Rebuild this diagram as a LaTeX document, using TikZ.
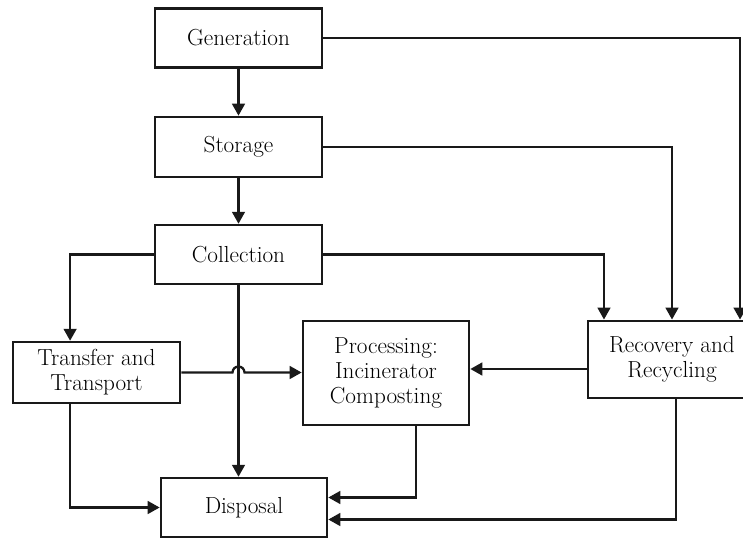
\documentclass[tikz,border=0pt]{standalone}
\usepackage{tikz}
\usetikzlibrary{arrows.meta,positioning,calc}

\begin{document}
\begin{tikzpicture}[
  x=0.025cm, y=-0.025cm,
  stage/.style={draw=black!90, line width=1.9pt, fill=white, align=center,
                font=\fontsize{16.5}{17.8}\selectfont, inner sep=0pt,
                minimum width=4.17cm, minimum height=1.47cm},
  flow/.style={draw=black!90, line width=1.6pt, -{Triangle[length=3mm,width=3.2mm]}}
]
\useasboundingbox (0,0) rectangle (743,538);

\node[stage] (gen) at (238.5,38) {Generation};
\node[stage, minimum height=1.5cm] (sto) at (238.5,147) {Storage};
\node[stage] (col) at (238.5,254.5) {Collection};
\node[stage, minimum height=1.52cm] (tra) at (96.5,372.5) {Transfer and\\Transport};
\node[stage, minimum width=4.15cm, minimum height=2.6cm] (pro) at (386,373) {Processing:\\Incinerator\\Composting};
\node[stage, minimum width=4.2cm, minimum height=1.93cm] (rec) at (672,359.5) {Recovery and\\Recycling};
\node[stage, minimum width=4.15cm] (dis) at (244,507.5) {Disposal};

% main chain
\draw[flow] (gen) -- (sto);
\draw[flow] (sto) -- (col);
\draw[flow] (col.south) -- (col.south |- dis.north);

% to recovery
\draw[flow] (gen.east) -| ([xshift=1.7cm]rec.north);
\draw[flow] (sto.east) -| (rec.north);
\draw[flow] (col.east) -| ([xshift=-1.7cm]rec.north);

% transfer
\draw[flow] (col.west) -| ([xshift=-6.6mm]tra.north);
\draw[flow] (tra.east) -- ($(col.south |- tra.east)+(-6,0)$)
  arc[start angle=180, end angle=0, radius=0.15cm] -- (pro.west |- tra.east);
\draw[flow] ([yshift=1mm]pro.east -| rec.west) -- ([yshift=1mm]pro.east);

% to disposal
\draw[flow] ([xshift=-6.6mm]tra.south) |- (dis.west);
\draw[flow] ([xshift=7.5mm]pro.south) |- ([yshift=2.5mm]dis.east);
\draw[flow] ([xshift=1mm]rec.south) |- ([yshift=-3mm]dis.east);
\end{tikzpicture}
\end{document}
